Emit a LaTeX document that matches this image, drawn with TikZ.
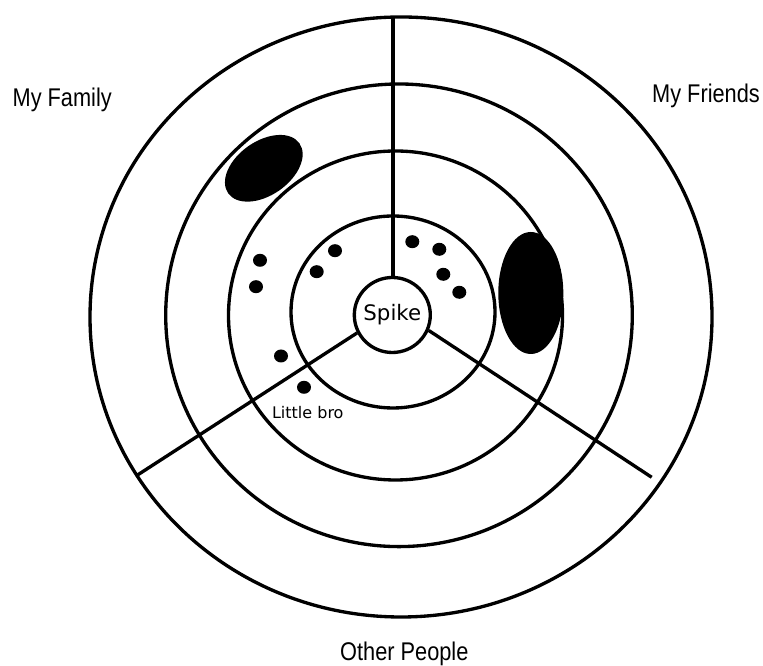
\documentclass[tikz,border=0pt]{standalone}
\usepackage{fontspec}
\usetikzlibrary{shapes.geometric}
\newfontfamily\labelfont[FakeStretch=0.85]{Liberation Sans}
\newfontfamily\dvfont{DejaVu Sans}
\begin{document}
\begin{tikzpicture}[x=0.75pt,y=0.75pt,
  ring/.style={line width=2.5pt},
  spoke/.style={line width=2.5pt},
  blob/.style={fill=black},
  lbl/.style={font=\labelfont\fontsize{19.2pt}{22pt}\selectfont, anchor=base, inner sep=0pt},
  small/.style={font=\dvfont\fontsize{12pt}{14pt}\selectfont, anchor=base, inner sep=0pt}]
\useasboundingbox (0,0) rectangle (763,666);
% rings
\draw[ring] (401,349) ellipse [x radius=311, y radius=300];
\draw[ring] (399,350.7) ellipse [x radius=233.3, y radius=231.3];
\draw[ring] (395.5,350.5) ellipse [x radius=167, y radius=164.5];
\draw[ring] (393,354) ellipse [x radius=102, y radius=96];
% centre
\node[draw, line width=2.5pt, ellipse, minimum width=57pt, minimum height=56.25pt, inner sep=0pt] (spike) at (392.3,351) {};
\node[font=\dvfont\fontsize{16pt}{18pt}\selectfont, inner sep=0pt] (spiketext) at (spike.center) {Spike};
% spokes
\coordinate (top) at (393,649.3);
\coordinate (ll) at (136,190);
\coordinate (lr) at (651.7,188.7);
\draw[spoke] (top) -- (top |- spike.north);
\draw[spoke] (spike.207) -- (ll);
\draw[spoke] (spike.337) -- (lr);
% blobs
\fill[blob] (263.8,497.7) ellipse [x radius=43.5, y radius=27, rotate=35];
\fill[blob] (530.8,373) ellipse [x radius=32.5, y radius=61];
% dots
\foreach \p in {(260,405.7),(256,379.3),(335,415.3),(316.7,394.3),(412.3,424.3),(439.3,416.7),(443.3,391.7),(459.3,373.7),(281,310),(304,278.7)}
  \fill[blob] \p ellipse [x radius=7, y radius=6.5];
% labels
\node[lbl] (family) at (62.2,559.3) {My Family};
\node[lbl] (friends) at (706,563.3) {My Friends};
\node[lbl] (others) at (404.3,5.5) {Other People};
\node[small] (bro) at (307.8,247.7) {Little bro};
\end{tikzpicture}
\end{document}
